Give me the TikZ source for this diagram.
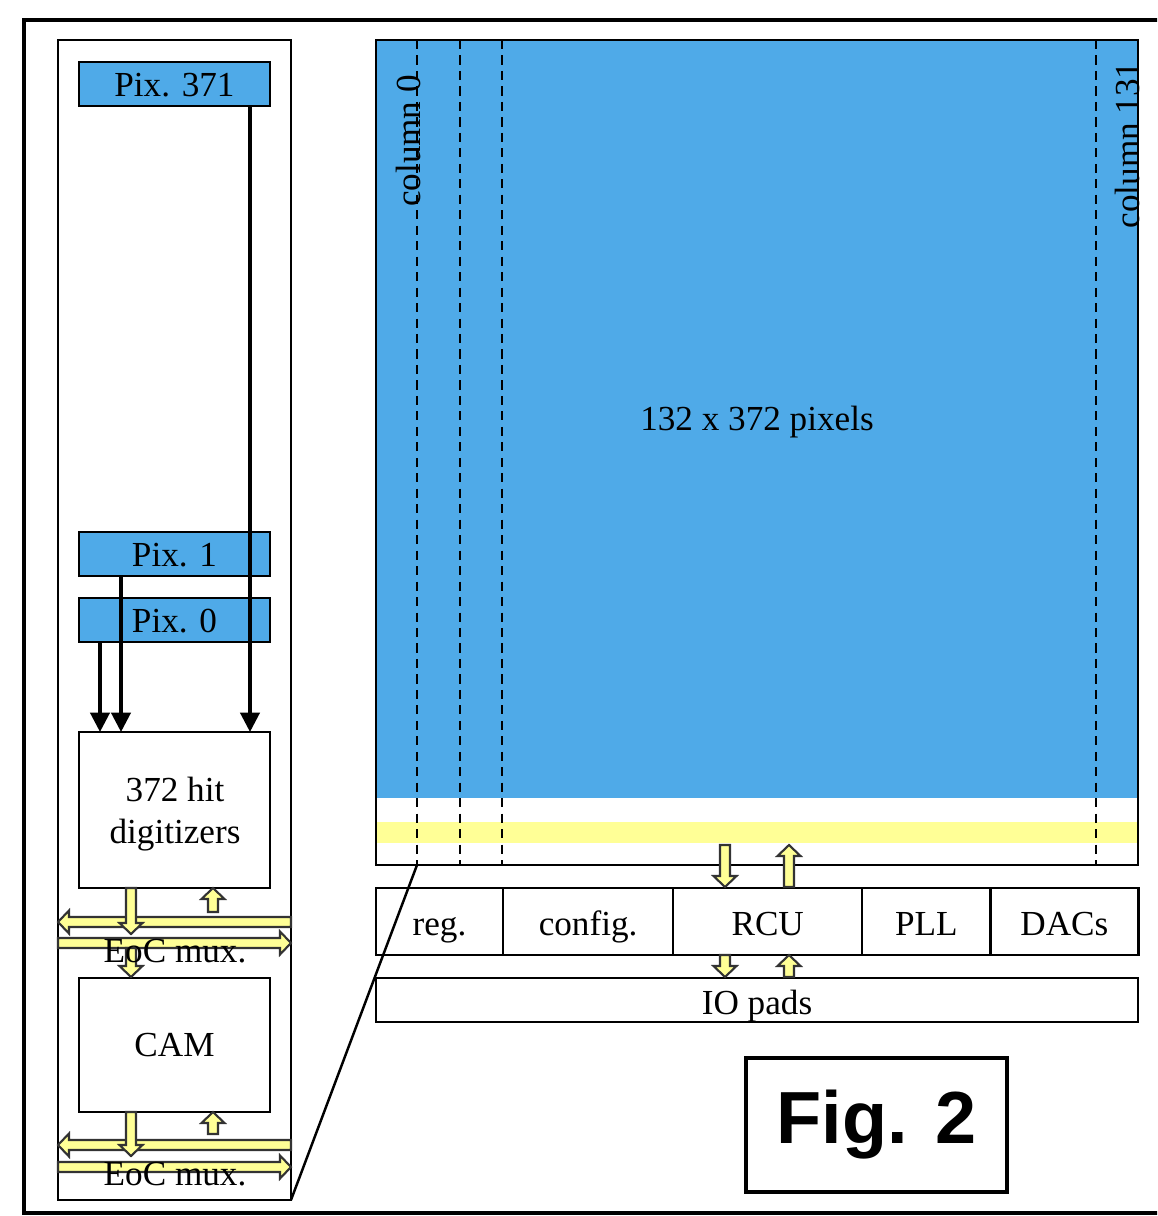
\documentclass[tikz,border=0pt]{standalone}
\usepackage{fontspec}
\setmainfont{Liberation Serif}
\newfontfamily\figfont{Liberation Sans}
\usetikzlibrary{arrows.meta,positioning}

\definecolor{pixblue}{RGB}{79,170,232}
\definecolor{busyellow}{RGB}{255,255,150}

\tikzset{
  pixbox/.style={draw, fill=pixblue, line width=0.7pt, minimum width=1.91cm, minimum height=0.44cm, inner sep=0pt, text height=8pt, text depth=1pt, font=\fontsize{10}{12}\selectfont},
  blk/.style={draw, line width=0.7pt, minimum height=0.67cm, inner sep=0pt, outer sep=0pt, font=\fontsize{10}{12}\selectfont},
  rowblk/.style={blk, text height=9pt, text depth=1pt},
  lbl/.style={font=\fontsize{10}{12}\selectfont, inner sep=0pt},
  fatbody/.style={draw=black!80, fill=busyellow, line width=0.6pt},
  pics/fatarrow/.style={code={
    \draw[fatbody] (-5,0) -- (-5,{#1-11}) -- (-11.5,{#1-11}) -- (0,#1)
      -- (11.5,{#1-11}) -- (5,{#1-11}) -- (5,0) -- cycle;
  }}
}

\begin{document}
\begin{tikzpicture}[x=0.01cm, y=-0.01cm, >={Triangle[length=5.5pt,width=5.5pt]}]
    \useasboundingbox (0,0) rectangle (1157,1216);
    \clip (0,0) rectangle (1157,1216);

    % outer frame
    \draw[line width=1.4pt] (24,20) rectangle (1190,1213);

    % left column: pixels, digitizers, CAM
    \draw[line width=0.7pt] (58,40) rectangle (291,1200);
    \coordinate (colbox) at (291,1200);

    \node[pixbox] (pix371) at (174.5,84) {Pix. 371};
    \node[pixbox] (pix1) at (174.5,554) {Pix. 1};
    \node[pixbox] (pix0) at (174.5,620) {Pix. 0};

    \node[blk, minimum width=1.91cm, minimum height=1.56cm, align=center] (dig) at (174.5,810) {};
    \node[lbl, align=center] (digtxt) at (175,814) {372 hit\\[0pt]digitizers};
    \node[blk, minimum width=1.91cm, minimum height=1.34cm] (cam) at (174.5,1045) {CAM};

    \draw[->, line width=0.9pt] (250,0 |- pix371.south) -- (250,0 |- dig.north);
    \draw[->, line width=0.9pt] (121,0 |- pix1.south) -- (121,0 |- dig.north);
    \draw[->, line width=0.9pt] (100,0 |- pix0.south) -- (100,0 |- dig.north);

    % EoC mux buses
    \pic[rotate=-90] at (291,922) {fatarrow=233};
    \pic[rotate=90] at (58,943) {fatarrow=233};
    \pic at (131,888) {fatarrow=46};
    \pic[rotate=180] at (213,912) {fatarrow=24};
    \pic at (131,948) {fatarrow=29};
    \node[lbl] (mux1) at (175,951) {EoC mux.};

    \pic[rotate=-90] at (291,1145) {fatarrow=233};
    \pic[rotate=90] at (58,1167) {fatarrow=233};
    \pic at (131,1112) {fatarrow=44};
    \pic[rotate=180] at (213,1134) {fatarrow=22};
    \node[lbl] (mux2) at (175,1174) {EoC mux.};

    % pixel matrix
    \fill[pixblue] (376,40) rectangle (1138,798);
    \fill[busyellow] (376,822) rectangle (1138,843);
    \draw[line width=0.8pt] (376,40) rectangle (1138,865);
    \foreach \x in {417,460,502,1096}
        \draw[dashed, dash pattern=on 2.6pt off 1.8pt, line width=0.6pt] (\x,40) -- (\x,865);
    \coordinate (col0) at (417,865);
    \node[lbl, rotate=90] (c0) at (408,141) {column 0};
    \node[lbl, rotate=90] (c131) at (1127,145) {column 131};
    \node[lbl] (matrix) at (757,422) {132 x 372 pixels};

    % periphery
    \node[rowblk, minimum width=1.27cm] (reg) at (439.5,921.5) {reg.};
    \node[rowblk, minimum width=1.70cm, right=0pt of reg] (config) {config.};
    \node[rowblk, minimum width=1.89cm, right=0pt of config] (rcu) {RCU};
    \node[rowblk, minimum width=1.28cm, right=0pt of rcu] (pll) {PLL};
    \node[rowblk, minimum width=1.48cm, right=0pt of pll] (dacs) {DACs};
    \node[rowblk, minimum width=7.62cm, minimum height=0.44cm] (io) at (757,1000) {IO pads};

    \pic at (725,845) {fatarrow=42};
    \pic[rotate=180] at (789,887) {fatarrow=42};
    \pic at (725,955) {fatarrow=22};
    \pic[rotate=180] at (789,977) {fatarrow=22};

    \draw[line width=0.7pt] (col0) -- (colbox);

    \node[draw, line width=1.3pt, minimum width=2.61cm, minimum height=1.34cm,
          font=\figfont\bfseries\fontsize{21}{25}\selectfont] (fig) at (876.5,1125) {Fig. 2};
\end{tikzpicture}
\end{document}
